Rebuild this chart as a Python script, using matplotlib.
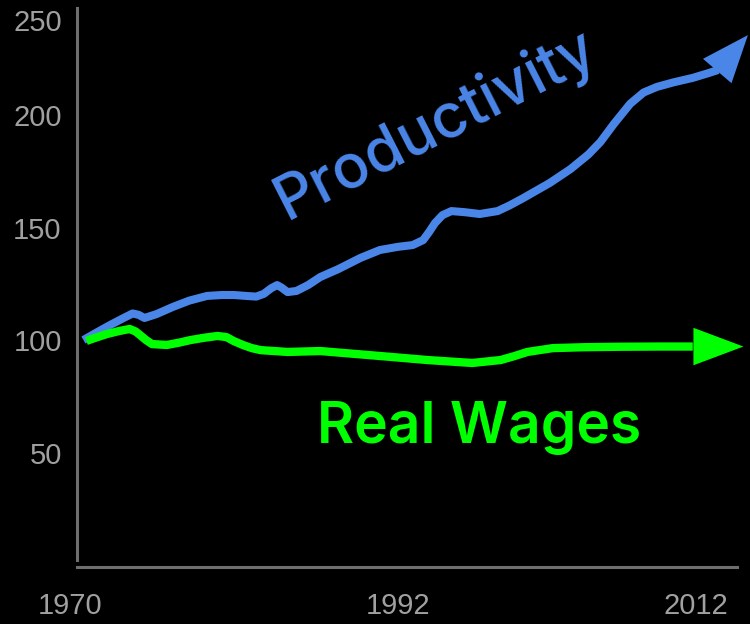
import matplotlib.pyplot as plt

# productivity vs real wages, index 1970 = 100
prod_years = [1970.9, 1971.8, 1972.7, 1973.6, 1974.2, 1974.6, 1975.0, 1975.8, 1976.9,
              1978.0, 1979.2, 1980.2, 1981.0, 1982.0, 1982.5, 1983.0, 1983.5, 1983.9,
              1984.2, 1984.6, 1985.2, 1986.0, 1986.8, 1988.0, 1989.5, 1990.8, 1992.0,
              1993.0, 1993.7, 1994.1, 1994.5, 1995.0, 1995.6, 1996.5, 1997.5, 1998.7,
              1999.5, 2000.4, 2002.2, 2003.6, 2004.8, 2005.6, 2006.5, 2007.6, 2008.5,
              2009.4, 2010.5, 2011.8, 2012.8, 2013.5]
prod_values = [100, 103.4, 106.7, 109.8, 111.8, 111.2, 109.8, 111.5, 114.7,
               117.5, 119.6, 120, 120, 119.5, 119.3, 120.5, 123, 124.4,
               123.3, 121.3, 121.8, 124.5, 128, 131.5, 136.5, 140, 141.4,
               142.2, 144.4, 148, 152, 155.5, 157.3, 156.8, 156, 157.3,
               159.8, 163, 169.8, 176, 182.5, 188, 196, 205, 210,
               212.5, 214.5, 216.5, 218.5, 220]
prod_tip = (2015.5, 235.5)

wage_years = [1971.1, 1971.8, 1972.5, 1973.3, 1974.0, 1974.4, 1974.7, 1975.1, 1975.5,
              1976.5, 1977.3, 1978.1, 1979.0, 1979.9, 1980.5, 1981.0, 1981.6, 1982.2,
              1982.8, 1984.6, 1986.8, 1988.8, 1990.8, 1994.0, 1997.0, 1998.9, 1999.8,
              2000.7, 2002.4, 2004.5, 2006.9, 2009.5, 2011.8]
wage_values = [99.6, 101.2, 102.7, 104, 104.9, 103.8, 102.2, 100, 98.2,
               97.8, 98.8, 100, 101, 101.8, 101.3, 99.5, 97.8, 96.4,
               95.5, 94.7, 95.1, 94, 92.9, 91.1, 89.8, 91.1, 92.8,
               94.7, 96.4, 96.8, 97, 97.1, 97.1]
wage_tip = (2015.2, 97.1)

x_ticks = [1970, 1992, 2012]
y_ticks = [50, 100, 150, 200, 242]
y_tick_labels = ["50", "100", "150", "200", "250"]

blue = "#4a86e8"
green = "#00ff00"
axis_gray = "#6e6e6e"
label_gray = "#a0a0a0"

fig = plt.figure(figsize=(7.5, 6.24), dpi=100, facecolor="black")
ax = fig.add_axes([0, 0, 1, 1], facecolor="black")
ax.set_xlim(1965.30, 2015.64)
ax.set_ylim(-26.2, 251.1)

for side in ["top", "right"]:
    ax.spines[side].set_visible(False)
ax.spines["left"].set_position(("data", 1970.47))
ax.spines["bottom"].set_position(("data", -0.9))
ax.spines["left"].set_bounds(2.2, 247.6)
ax.spines["bottom"].set_bounds(1970.47, 2014.77)
for side in ["left", "bottom"]:
    ax.spines[side].set_color(axis_gray)
    ax.spines[side].set_linewidth(2.2)

ax.set_xticks(x_ticks)
ax.set_xticklabels([str(x) for x in x_ticks], family=["Liberation Sans Narrow", "Liberation Sans", "DejaVu Sans"])
ax.set_yticks(y_ticks)
ax.set_yticklabels(y_tick_labels, family=["Liberation Sans", "DejaVu Sans"])
ax.tick_params(axis="x", length=0, pad=18, labelsize=21, labelcolor=label_gray)
ax.tick_params(axis="y", length=0, pad=11, labelsize=21, labelcolor=label_gray)

# lines run up to the arrow base, the head is drawn on its own (no outline)
ax.plot(prod_years, prod_values, color=blue, lw=5.8, solid_capstyle="butt",
        solid_joinstyle="round", clip_on=False)
ax.annotate("", xy=prod_tip, xytext=(prod_years[-1], prod_values[-1]),
            arrowprops=dict(arrowstyle="-|>,head_length=3.4,head_width=1.35",
                            mutation_scale=10, color=blue, lw=0,
                            shrinkA=0, shrinkB=0), annotation_clip=False)

ax.plot(wage_years, wage_values, color=green, lw=6, solid_capstyle="butt",
        solid_joinstyle="round", clip_on=False)
ax.annotate("", xy=wage_tip, xytext=(wage_years[-1], wage_values[-1]),
            arrowprops=dict(arrowstyle="-|>,head_length=3.6,head_width=1.35",
                            mutation_scale=10, color=green, lw=0,
                            shrinkA=0, shrinkB=0), annotation_clip=False)

ax.text(1994.5, 195.5, "Productivity", color=blue, fontsize=44, fontweight="medium",
        rotation=27, ha="center", va="center", rotation_mode="anchor",
        family=["Inter", "DejaVu Sans"])
ax.text(1997.45, 54.2, "Real Wages", color=green, fontsize=41, fontweight="semibold",
        ha="center", va="baseline", family=["Inter", "DejaVu Sans"])

fig.savefig("out.png", dpi=100, facecolor="black")
